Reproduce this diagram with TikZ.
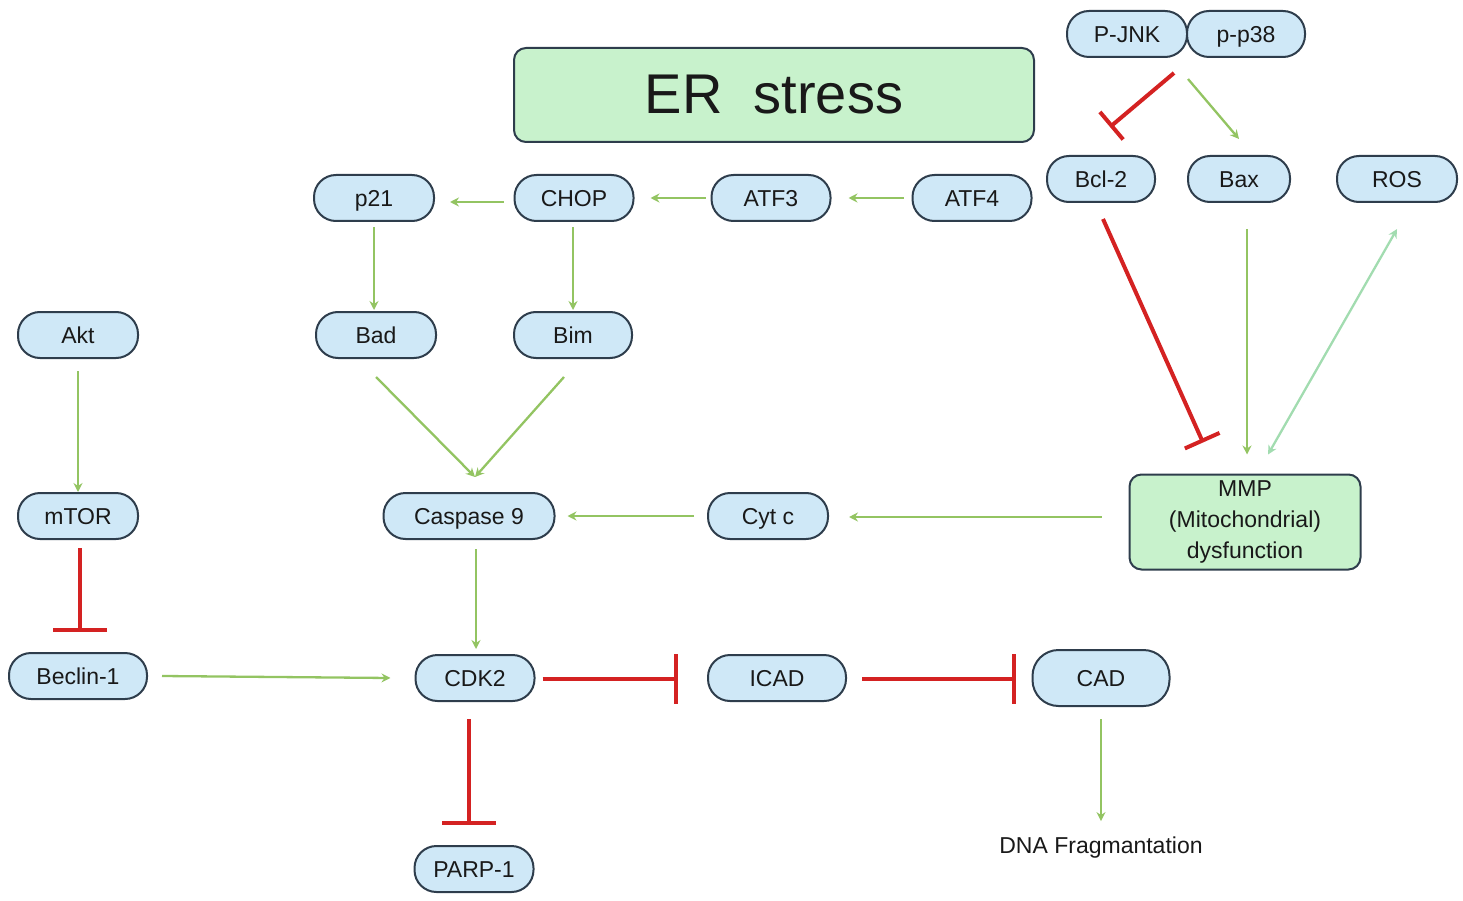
\documentclass[tikz,border=0pt]{standalone}
\usepackage{fontspec}
\setmainfont{Liberation Sans}
\usetikzlibrary{positioning,arrows.meta}
\definecolor{pillblue}{HTML}{CFE8F7}
\definecolor{boxgreen}{HTML}{C8F2CC}
\definecolor{edgedark}{HTML}{2E3D4C}
\definecolor{actgreen}{HTML}{93C462}
\definecolor{mintgreen}{HTML}{A2DCB0}
\definecolor{inhred}{HTML}{D42222}

\begin{document}
\begin{tikzpicture}[
    x=1pt, y=-1pt,
    pill/.style={draw=edgedark, line width=2pt, fill=pillblue, rounded corners=22pt, minimum width=120pt, minimum height=46pt, inner sep=0pt, align=center, text height=20pt, text depth=3pt, font=\fontsize{23}{28}\selectfont, text=black!90},
    panel/.style={draw=edgedark, line width=2pt, fill=boxgreen, rounded corners=12pt, inner sep=0pt, align=center, text=black!90},
    act/.style={draw=actgreen, line width=2.3pt, -{Stealth[length=9pt,width=9pt,inset=3pt]}},
    inh/.style={draw=inhred, line width=4pt},
]
    \useasboundingbox (0,0) rectangle (1463,901);

    \node[panel, minimum width=520pt, minimum height=94pt, font=\fontsize{56}{62}\selectfont] (er) at (774,95) {ER\ \ stress};
    \node[pill] (jnk) at (1127,34) {P-JNK};
    \node[pill, minimum width=118pt] (p38) at (1246,34) {p-p38};
    \node[pill, minimum width=108pt] (bcl) at (1101,179) {Bcl-2};
    \node[pill, minimum width=102pt] (bax) at (1239,179) {Bax};
    \node[pill] (ros) at (1397,179) {ROS};

    \node[pill] (p21) at (374,198) {p21};
    \node[pill, minimum width=119pt] (chop) at (574,198) {CHOP};
    \node[pill, minimum width=119pt] (atf3) at (771,198) {ATF3};
    \node[pill, minimum width=119pt] (atf4) at (972,198) {ATF4};

    \node[pill] (akt) at (78,335) {Akt};
    \node[pill] (bad) at (376,335) {Bad};
    \node[pill, minimum width=118pt] (bim) at (573,335) {Bim};

    \node[pill] (mtor) at (78,516) {mTOR};
    \node[pill, minimum width=171pt] (casp9) at (469,516) {Caspase 9};
    \node[pill] (cytc) at (768,516) {Cyt c};
    \node[panel, minimum width=231pt, minimum height=95pt, font=\fontsize{23}{31}\selectfont] (mmp) at (1245,522) {MMP\\(Mitochondrial)\\dysfunction};

    \node[pill, minimum width=138pt] (beclin) at (78,676) {Beclin-1};
    \node[pill, minimum width=119pt] (cdk2) at (475,678) {CDK2};
    \node[pill, minimum width=138pt] (icad) at (777,678) {ICAD};
    \node[pill, minimum width=137pt, minimum height=56pt, rounded corners=26pt] (cad) at (1101,678) {CAD};
    \node[pill, minimum width=119pt] (parp) at (474,869) {PARP-1};
    \node[font=\fontsize{23}{28}\selectfont, text=black!90, inner sep=0pt] (dna) at (1101,848) {DNA Fragmantation};

    \draw[act] ([xshift=-8pt]atf4.west) -- ([xshift=17pt]atf3.east);
    \draw[act] ([xshift=-5pt]atf3.west) -- ([xshift=16pt]chop.east);
    \draw[act] ([xshift=-10pt,yshift=-4pt]chop.west) -- ([xshift=15pt,yshift=-4pt]p21.east);
    \draw[act] ([yshift=-5pt]p21.south) -- ([xshift=-2pt,yshift=1pt]bad.north);
    \draw[act] ([xshift=-1pt,yshift=-5pt]chop.south) -- ([yshift=1pt]bim.north);
    \draw[act] ([yshift=-18pt]bad.south) -- ([xshift=6pt,yshift=15pt]casp9.north);
    \draw[act] ([xshift=-9pt,yshift=-18pt]bim.south) -- ([xshift=6pt,yshift=15pt]casp9.north);
    \draw[act] ([yshift=-12pt]akt.south) -- (mtor.north);
    \draw[inh, -{Bar[width=54pt]}] ([xshift=2pt,yshift=-8pt]mtor.south) -- ([xshift=2pt,yshift=20pt]beclin.north);
    \draw[act] ([xshift=14pt]beclin.east) -- ([xshift=-24pt]cdk2.west);
    \draw[act] ([xshift=7pt,yshift=-9pt]casp9.south) -- ([xshift=1pt,yshift=5pt]cdk2.north);
    \draw[inh, -{Bar[width=50pt]}] ([xshift=7pt,yshift=-1pt]cdk2.east) -- ([xshift=-29pt,yshift=-1pt]icad.west);
    \draw[inh, -{Bar[width=50pt]}] ([xshift=15pt,yshift=-1pt]icad.east) -- ([xshift=-16pt,yshift=-1pt]cad.west);
    \draw[inh, -{Bar[width=54pt]}] ([xshift=-6pt,yshift=-17pt]cdk2.south) -- ([xshift=-5pt,yshift=20pt]parp.north);
    \draw[act] ([yshift=-12pt]cad.south) -- ([yshift=16pt]dna.north);
    \draw[act] ([xshift=-13pt]cytc.west) -- ([xshift=12pt]casp9.east);
    \draw[act] ([xshift=-27pt,yshift=5pt]mmp.west) -- ([xshift=20pt,yshift=-1pt]cytc.east);

    \draw[inh, -{Bar[width=36pt]}] ([xshift=-14pt,yshift=-15pt]jnk.south east) -- ([xshift=9pt,yshift=28pt]bcl.north);
    \draw[act] ([xshift=2pt,yshift=-21pt]p38.south west) -- ([yshift=16pt]bax.north);
    \draw[inh, -{Bar[width=38pt]}] ([xshift=2pt,yshift=-16pt]bcl.south) -- ([xshift=-42pt,yshift=31pt]mmp.north);
    \draw[act] ([xshift=8pt,yshift=-26pt]bax.south) -- ([xshift=2pt,yshift=19pt]mmp.north);
    \draw[act, draw=mintgreen, {Stealth[length=9pt,width=9pt,inset=3pt]}-{Stealth[length=9pt,width=9pt,inset=3pt]}] ([xshift=23pt,yshift=19pt]mmp.north) -- ([yshift=-26pt]ros.south);
\end{tikzpicture}
\end{document}
